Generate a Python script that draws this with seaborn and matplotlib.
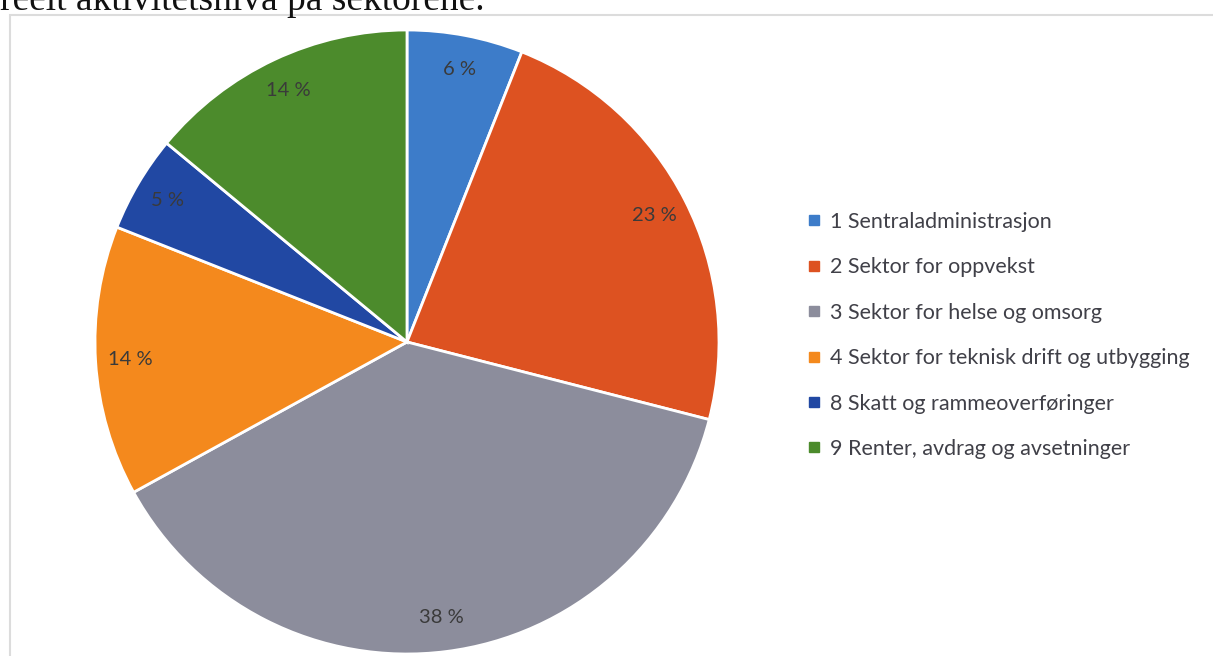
import matplotlib
matplotlib.use("Agg")
import matplotlib.pyplot as plt
from matplotlib.lines import Line2D
from matplotlib.patches import Rectangle
import seaborn as sns

categories = [
    "1 Sentraladministrasjon",
    "2 Sektor for oppvekst",
    "3 Sektor for helse og omsorg",
    "4 Sektor for teknisk drift og utbygging",
    "8 Skatt og rammeoverføringer",
    "9 Renter, avdrag og avsetninger",
]
values = [6, 23, 38, 14, 5, 14]
value_labels = ["6 %", "23 %", "38 %", "14 %", "5 %", "14 %"]
colors = ["#3d7cc9", "#dd5221", "#8c8d9c", "#f4891d", "#2148a3", "#4c8b2c"]

sns.set_theme(style="white")
plt.rcParams["font.family"] = ["Lato", "DejaVu Sans"]

W, H = 1213, 656
fig = plt.figure(figsize=(W / 100, H / 100), dpi=100)
fig.patch.set_facecolor("white")

# light frame of the embedded chart
fig.add_artist(Rectangle((10 / W, -0.1), 1.2, (H - 15) / H + 0.1,
                         transform=fig.transFigure, fill=False,
                         edgecolor="#dcdcdc", linewidth=1.5))

cx, cy, r = 407, 342, 312
ax = fig.add_axes([(cx - r) / W, (H - cy - r) / H, 2 * r / W, 2 * r / H])
pal = sns.color_palette(colors)
wedges, texts = ax.pie(values, colors=pal, startangle=90, counterclock=False,
                       labels=value_labels, labeldistance=0.89,
                       wedgeprops=dict(edgecolor="white", linewidth=2),
                       textprops=dict(color="#3a3a3a", fontsize=14.5))
for t in texts:
    t.set_ha("center")
    t.set_va("center")
ax.set_xlim(-1, 1)
ax.set_ylim(-1, 1)
ax.set_aspect("equal")
ax.axis("off")

handles = [Line2D([0], [0], marker="s", linestyle="none", markersize=6.5,
                  markerfacecolor=c, markeredgecolor=c) for c in pal]
fig.legend(handles, categories, loc="upper left",
           bbox_to_anchor=(806 / W, 1 - 212 / H), frameon=False,
           fontsize=15.5, labelcolor="#404048", handlelength=0.7,
           handletextpad=0.4, labelspacing=1.18, borderpad=0, borderaxespad=0)

# clipped caption line from the surrounding document
fig.text(0 / W, 1 - 10 / H, "reelt aktivitetsnivå på sektorene.",
         family="Liberation Serif", fontsize=27, color="#111111",
         ha="left", va="baseline")

fig.savefig("out.png", dpi=100)
